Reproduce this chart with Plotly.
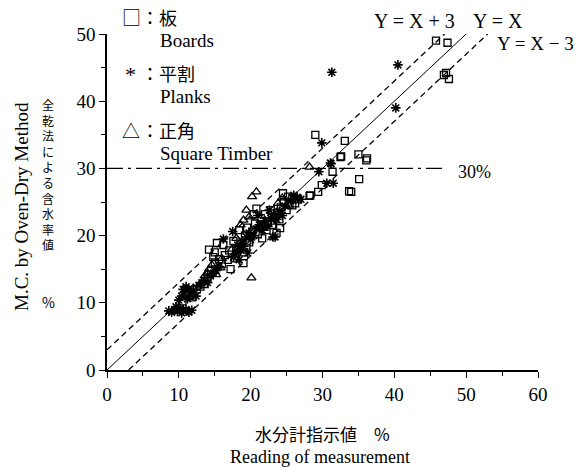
import plotly.graph_objects as go

# ---------------- data ----------------
boards_x = [45.8, 47.4, 46.9, 47.2, 47.6, 29.0, 33.1, 32.6, 35.0, 36.2, 36.1, 32.5, 31.4, 35.1,
            34.0, 33.7, 29.9, 29.4, 28.2, 28.3, 24.5, 25.8, 24.1, 19.0, 14.2, 15.3,
            10.5, 11.2, 11.8, 12.5, 13.0, 13.6, 14.0, 14.5, 15.0, 15.6, 16.0, 16.4, 16.8, 15.0,
            14.8, 17.2, 17.0, 17.8, 18.2, 18.6, 19.0, 19.4, 19.8, 19.2, 19.5, 20.2, 20.6, 21.0,
            21.4, 21.8, 22.0, 22.4, 22.8, 23.0, 23.4, 23.8, 24.2, 24.6, 25.0, 25.4, 25.8, 26.2,
            26.6, 22.2, 23.6, 21.6, 20.4, 20.8, 24.0, 25.2, 18.4, 17.6, 16.2]
boards_y = [49.0, 48.7, 43.9, 44.2, 43.3, 35.0, 34.1, 31.8, 32.1, 31.5, 31.2, 31.7, 29.5, 28.4,
            26.5, 26.6, 27.5, 26.5, 25.9, 26.0, 26.3, 24.5, 21.1, 15.9, 17.9, 18.9,
            10.2, 11.5, 10.8, 12.0, 12.4, 12.8, 13.6, 14.8, 16.0, 16.5, 15.8, 17.1, 16.4, 17.5,
            16.8, 15.0, 17.8, 16.6, 17.9, 18.8, 17.5, 18.2, 19.0, 20.0, 21.2, 20.6, 21.8, 20.2,
            22.6, 21.4, 23.2, 22.0, 23.8, 21.6, 22.8, 23.4, 24.2, 25.0, 23.8, 24.6, 25.6, 24.8,
            25.4, 20.8, 20.4, 19.6, 23.2, 24.0, 22.4, 25.8, 20.8, 19.2, 18.6]

planks_x = [40.5, 31.3, 40.2, 29.9, 31.2, 29.5, 31.1, 30.6, 31.5, 26.5, 23.1, 16.2, 17.5, 23.4,
            8.6, 9.0, 9.4, 9.8, 10.2, 10.6, 11.0, 11.4, 11.8, 9.6, 10.4,
            10.0, 10.4, 10.8, 11.2, 11.6, 12.0, 12.4, 10.6, 11.0, 11.4, 12.8, 13.2, 13.6, 14.0,
            14.4, 14.8, 15.2, 15.6,
            17.6, 18.0, 18.2, 18.6, 18.8, 19.0, 19.4, 19.8, 20.0, 20.4, 20.8, 21.2, 21.6, 22.0,
            22.4, 22.8, 23.2, 23.6, 24.0, 24.4, 24.8, 25.6, 26.0, 27.0, 21.0, 22.6, 18.4, 19.6]
planks_y = [45.4, 44.3, 39.0, 33.8, 30.7, 29.5, 30.8, 27.8, 27.8, 25.7, 19.8, 19.5, 20.6, 19.8,
            8.8, 8.6, 9.0, 8.7, 9.2, 8.8, 9.0, 8.6, 8.9, 9.4, 8.5,
            10.4, 11.0, 11.6, 10.6, 11.2, 11.8, 11.0, 12.0, 12.4, 12.0, 12.6, 13.0, 13.4, 13.0,
            14.0, 14.4, 14.8, 15.4,
            16.8, 17.4, 18.6, 17.8, 19.2, 18.4, 19.8, 20.4, 19.4, 20.0, 21.0, 21.6, 20.8, 22.2,
            21.4, 22.6, 23.2, 22.4, 23.6, 23.0, 24.4, 25.2, 26.0, 25.4, 23.0, 23.8, 16.4, 17.4]

timber_x = [28.2, 20.8, 20.2, 19.4, 19.0, 20.1, 14.0, 14.6, 15.2, 13.6, 16.0, 15.8, 14.2,
            18.6, 19.8, 12.0, 11.4, 21.4, 22.8, 18.0, 17.4, 24.4, 23.8]
timber_y = [30.2, 26.5, 25.8, 23.8, 22.3, 13.7, 14.4, 15.6, 14.2, 14.0, 16.6, 15.2, 15.0,
            21.6, 22.8, 12.2, 10.8, 21.2, 22.0, 19.6, 18.0, 25.6, 24.8]

ref_x = [0, 50]
line_eq_y = [0, 50]
line_plus_x = [0, 47]
line_plus_y = [3, 50]
line_minus_x = [3, 53]
line_minus_y = [0, 50]
pct_x = [0, 47]
pct_y = [30, 30]

x_ticks = [0, 10, 20, 30, 40, 50, 60]
y_ticks = [0, 10, 20, 30, 40, 50]

SERIF = "Liberation Serif, Times New Roman, serif"
CJK = "Noto Sans CJK JP"

fig = go.Figure()

fig.add_trace(go.Scatter(x=ref_x, y=line_eq_y, mode="lines",
                         line=dict(color="black", width=1), hoverinfo="skip"))
fig.add_trace(go.Scatter(x=line_plus_x, y=line_plus_y, mode="lines",
                         line=dict(color="black", width=1.3, dash="6px,4px"), hoverinfo="skip"))
fig.add_trace(go.Scatter(x=line_minus_x, y=line_minus_y, mode="lines",
                         line=dict(color="black", width=1.3, dash="6px,4px"), hoverinfo="skip"))
fig.add_trace(go.Scatter(x=pct_x, y=pct_y, mode="lines",
                         line=dict(color="black", width=1.2, dash="16px,5px,3px,5px"), hoverinfo="skip"))

fig.add_trace(go.Scatter(x=boards_x, y=boards_y, mode="markers", name="Boards",
                         marker=dict(symbol="square-open", size=7, color="black",
                                     line=dict(color="black", width=1.3))))
fig.add_trace(go.Scatter(x=planks_x, y=planks_y, mode="markers", name="Planks",
                         marker=dict(symbol="asterisk-open", size=8, color="black",
                                     line=dict(color="black", width=1.6))))
fig.add_trace(go.Scatter(x=timber_x, y=timber_y, mode="markers", name="Square Timber",
                         marker=dict(symbol="triangle-up-open", size=8, color="black",
                                     line=dict(color="black", width=1.3))))

annotations = []

def px_ann(text, x, y, size, family, xanchor="center", yanchor="middle", angle=0):
    # x, y in pixels of the page -> paper coordinates
    px = (x - 107) / 431.0
    py = (370 - y) / 336.0
    annotations.append(dict(text=text, x=px, y=py, xref="paper", yref="paper",
                            xanchor=xanchor, yanchor=yanchor, showarrow=False,
                            textangle=angle, borderpad=0,
                            font=dict(size=size, family=family, color="black")))

# legend (text)
px_ann("□", 121, 17, 19, CJK, xanchor="left")
px_ann("：板", 140, 17, 18, CJK, xanchor="left")
px_ann("Boards", 159, 40, 19, SERIF, xanchor="left")
px_ann("*", 124, 74, 22, SERIF, xanchor="left")
px_ann("：平割", 140, 73, 18, CJK, xanchor="left")
px_ann("Planks", 159, 96, 19, SERIF, xanchor="left")
px_ann("△", 121, 130, 18, CJK, xanchor="left")
px_ann("：正角", 140, 130, 18, CJK, xanchor="left")
px_ann("Square Timber", 159, 153, 19, SERIF, xanchor="left")

# line labels
px_ann("Y = X + 3", 414, 21, 20, SERIF)
px_ann("Y = X", 498, 21, 20, SERIF)
px_ann("Y = X − 3", 535, 43, 19, SERIF)
px_ann("30%", 474, 172, 18, SERIF)

# axis titles
px_ann("水分計指示値　%", 322, 433, 17, CJK)
px_ann("Reading of measurement", 320, 457, 18, SERIF)
px_ann("M.C. by Oven-Dry Method", 22, 207, 19, SERIF, angle=-90)
y_title_chars = "全乾法による含水率値"
px_ann("<br>".join(y_title_chars), 48, 175, 12, CJK)
px_ann("%", 48, 302, 14, CJK)

fig.update_layout(
    width=578, height=468,
    margin=dict(l=107, r=40, t=34, b=98),
    paper_bgcolor="white", plot_bgcolor="white",
    showlegend=False,
    annotations=annotations,
    xaxis=dict(range=[0, 60], tickvals=x_ticks, showgrid=False, zeroline=False,
               showline=True, linecolor="black", linewidth=1.5,
               ticks="outside", ticklen=6, tickwidth=1.3, tickcolor="black",
               minor=dict(dtick=5, ticks="outside", ticklen=4, tickwidth=1.2, tickcolor="black"),
               tickfont=dict(family=SERIF, size=19, color="black")),
    yaxis=dict(range=[0, 50], tickvals=y_ticks, showgrid=False, zeroline=False,
               showline=True, linecolor="black", linewidth=1.5,
               ticks="outside", ticklen=6, tickwidth=1.3, tickcolor="black",
               minor=dict(dtick=5, ticks="outside", ticklen=4, tickwidth=1.2, tickcolor="black"),
               tickfont=dict(family=SERIF, size=19, color="black")),
)
for tr in fig.data:
    tr.cliponaxis = False

fig.write_html("out.html", config={"displayModeBar": False},
               post_script="document.body.style.margin='0';document.body.style.overflow='hidden';")
